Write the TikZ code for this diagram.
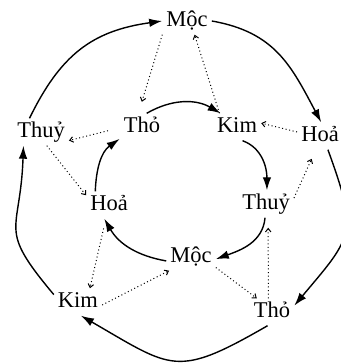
\documentclass[tikz,border=0pt]{standalone}
\usepackage{fontspec}
\setmainfont{Liberation Serif}
\usetikzlibrary{arrows.meta}

\begin{document}
\begin{tikzpicture}[x=1pt, y=1pt,
  every node/.style={font=\fontsize{22.5}{25}\selectfont, inner sep=4pt, text height=15pt, text depth=4pt},
  sinh/.style={line width=1.4pt, -{Latex[length=13pt, width=8.5pt]}},
  khac/.style={line width=1pt, dash pattern=on 1pt off 2.6pt, -{Straight Barb[length=3.5pt, width=5.5pt]}}]
  \useasboundingbox (0,0) rectangle (340,364);
  \node (mocO)  at (187,343) {Mộc};
  \node (hoaO)  at (320,228) {Hoả};
  \node (thoO)  at (272,52)  {Thỏ};
  \node (kimO)  at (78,62)   {Kim};
  \node (thuyO) at (41,232)  {Thuỷ};
  \node (thoI)  at (142,237) {Thỏ};
  \node (kimI)  at (237,237) {Kim};
  \node (thuyI) at (266,160) {Thuỷ};
  \node (mocI)  at (191,107) {Mộc};
  \node (hoaI)  at (109,159) {Hoả};
  \draw[sinh] (thuyO.130) to[out=64, in=188, looseness=1.1] (mocO.west);
  \draw[sinh] (mocO.east) to[out=-10, in=118, looseness=1.1] (hoaO.85);
  \draw[sinh] (hoaO.-60) to[out=-70, in=50, looseness=1.45] (thoO.16);
  \draw[sinh] (thoO.-108) to[out=-150, in=-30, looseness=1.45] (kimO.-78);
  \draw[sinh] (kimO.163) to[out=130, in=-92, looseness=1.5] (thuyO.-142);
  \draw[sinh] (thoI.71) to[out=30, in=150] (kimI.140);
  \draw[sinh] (kimI.-68) to[out=-20, in=90] (thuyI.86);
  \draw[sinh] (thuyI.-94) to[out=-95, in=20] (mocI.-5);
  \draw[sinh] (mocI.189) to[out=170, in=-60] (hoaI.-109);
  \draw[sinh] (hoaI.135) to[out=88, in=-145] (thoI.208);
  \draw[khac, shorten >=12pt] (mocO.209) -- (thoI.105);
  \draw[khac] (kimI.142) -- (mocO.-61);
  \draw[khac] (hoaO.170) -- (kimI.9);
  \draw[khac, shorten <=12pt] (thoI.182) -- (thuyO.-17);
  \draw[khac] (thuyO.-67) -- (hoaI.157);
  \draw[khac, shorten >=10pt] (thuyI.12) -- (hoaO.-107);
  \draw[khac, shorten >=10pt] (thoO.105) -- (thuyI.-81);
  \draw[khac] (mocI.-23) -- (thoO.138);
  \draw[khac, shorten <=10pt] (hoaI.-103) -- (kimO.49);
  \draw[khac] (kimO.-7) -- (mocI.212);
\end{tikzpicture}
\end{document}
